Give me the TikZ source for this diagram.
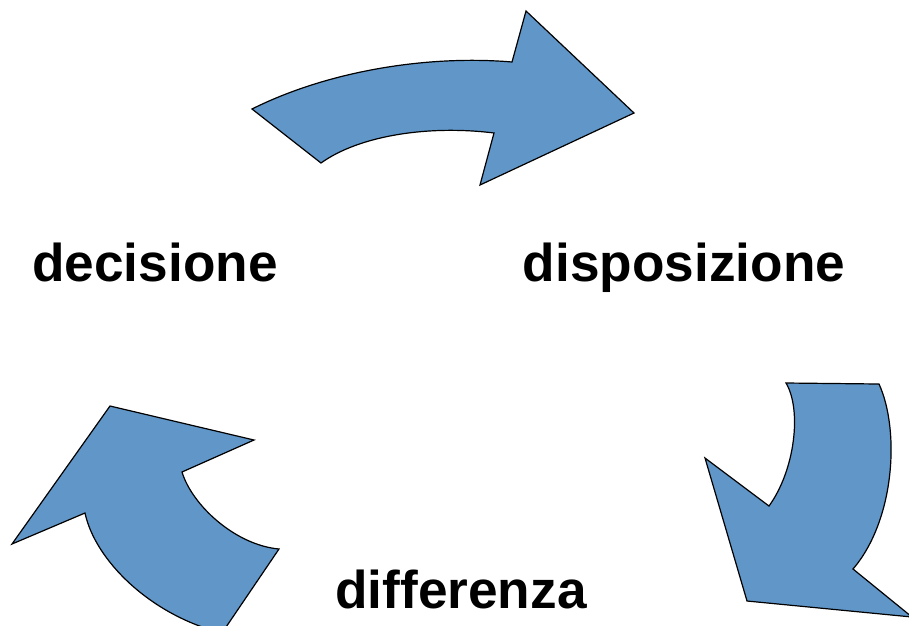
\documentclass[tikz,border=0pt]{standalone}
\usepackage{fontspec}
\setmainfont{Liberation Sans}
\definecolor{arrowblue}{RGB}{96,150,200}
\begin{document}
\begin{tikzpicture}[x=1pt,y=-1pt,
  cyclearrow/.style={fill=arrowblue,draw=black,line width=1.2pt,line join=miter},
  label/.style={inner sep=0pt,anchor=base,font=\fontsize{53.2}{60}\selectfont\bfseries}]
\useasboundingbox (0,0) rectangle (909,625);
\clip (0,0) rectangle (909,625);
% top arrow
\path[cyclearrow] (252,109) .. controls (330,70) and (430,55) .. (512,62)
  -- (526,11) -- (634,113) -- (480,185) -- (494,133)
  .. controls (430,125) and (360,135) .. (321,163) -- cycle;
% right arrow
\path[cyclearrow] (786,383) -- (879,384)
  .. controls (900,430) and (895,520) .. (853,569)
  -- (912,617) -- (747,601) -- (705,458) -- (769,506)
  .. controls (795,470) and (802,410) .. (786,383) -- cycle;
% left arrow
\path[cyclearrow] (110,406) -- (254,440) -- (182,472)
  .. controls (192,505) and (235,545) .. (279,549)
  -- (222,633)
  .. controls (150,615) and (95,560) .. (85,513)
  -- (12,544) -- cycle;
\node[label] (dec) at (155,281) {decisione};
\node[label] (disp) at (684,281) {disposizione};
\node[label] (diff) at (461,608) {differenza};
\end{tikzpicture}
\end{document}
